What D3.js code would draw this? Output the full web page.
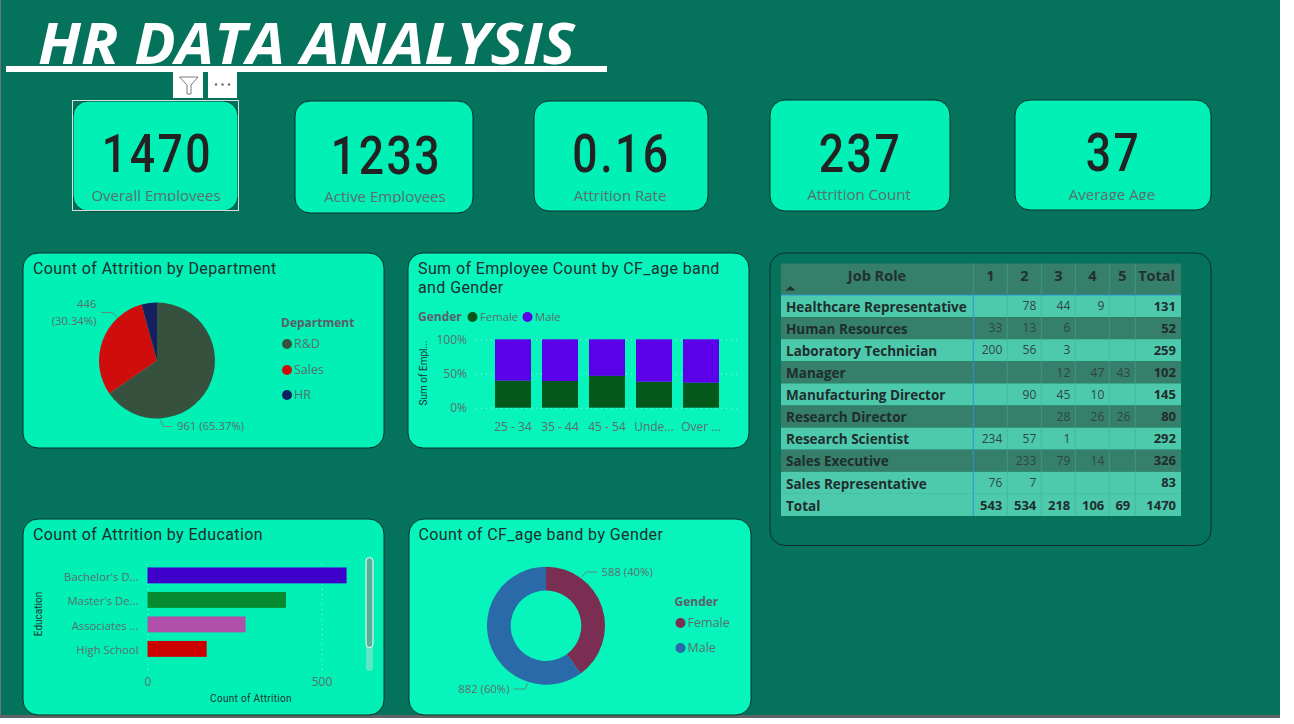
<!DOCTYPE html>
<html>
<head>
<meta charset="utf-8">
<script src="https://cdn.jsdelivr.net/npm/d3@7"></script>
<style>
  html, body { margin: 0; background: #fff; overflow: hidden; }
  svg { display: block; }
  text { font-family: "Open Sans", "Noto Sans", sans-serif; }
  .din { font-family: Roboto, sans-serif; font-weight: 500; }
  .label { font-size: 12px; fill: #5b6f6c; }
  .tick-label { font-size: 11.3px; fill: #5b6f6c; }
  .title { font-family: Roboto, sans-serif; font-size: 16px; fill: #1f2d2d; letter-spacing: 0.4px; }
  .legend-title { font-size: 12px; font-weight: 700; fill: #5a6068; }
  .axis-title { font-family: Roboto, sans-serif; font-size: 10px; fill: #22302f; }
</style>
</head>
<body>
<svg id="page" width="1294" height="724"></svg>
<script>
var kpiValues = ['1470', '1233', '0.16', '237', '37'];
var kpiNames = ['Overall Employees', 'Active Employees', 'Attrition Rate', 'Attrition Count', 'Average Age'];

var departments = ['R&D', 'Sales', 'HR'];
var departmentCounts = [961, 446, 63];

var ageBands = ['25 - 34', '35 - 44', '45 - 54', 'Under 25', 'Over 55'];
var ageBandTicks = ['25 - 34', '35 - 44', '45 - 54', 'Unde...', 'Over ...'];
var femaleShare = [39.5, 39, 46.5, 38, 36.5];
var maleShare = [60.5, 61, 53.5, 62, 63.5];

var educationLevels = ["Bachelor's Degree", "Master's Degree", 'Associates Degree', 'High School'];
var educationTicks = ["Bachelor's D...", "Master's De...", 'Associates ...', 'High School'];
var educationCounts = [572, 398, 282, 170];

var genders = ['Female', 'Male'];
var genderCounts = [588, 882];

var jobRoles = ['Healthcare Representative', 'Human Resources', 'Laboratory Technician', 'Manager',
  'Manufacturing Director', 'Research Director', 'Research Scientist', 'Sales Executive',
  'Sales Representative', 'Total'];
var jobLevels = ['1', '2', '3', '4', '5', 'Total'];
var level1 = ['', 33, 200, '', '', '', 234, '', 76, 543];
var level2 = [78, 13, 56, '', 90, '', 57, 233, 7, 534];
var level3 = [44, 6, 3, 12, 45, 28, 1, 79, '', 218];
var level4 = [9, '', '', 47, 10, 26, '', 14, '', 106];
var level5 = ['', '', '', 43, '', 26, '', '', '', 69];
var levelTotal = [131, 52, 259, 102, 145, 80, 292, 326, 83, 1470];

var svg = d3.select('#page');

// report background
svg.append('rect').attr('width', 1280).attr('height', 718).attr('fill', '#05735c');
svg.append('rect').attr('width', 1).attr('height', 718).attr('fill', '#6b7775');
svg.append('rect').attr('y', 715).attr('width', 1280).attr('height', 3).attr('fill', '#5d6664');

// header
svg.append('text')
  .attr('x', 38).attr('y', 64)
  .attr('textLength', 537)
  .attr('lengthAdjust', 'spacingAndGlyphs')
  .style('font-size', '57px').style('font-weight', 700).style('font-style', 'italic')
  .attr('fill', '#fff')
  .text('HR DATA ANALYSIS');
svg.append('rect').attr('x', 6).attr('y', 66).attr('width', 601).attr('height', 6).attr('fill', '#fff');

// cards helper
function card(x, y, w, h, fill) {
  return svg.append('rect')
    .attr('x', x).attr('y', y).attr('width', w).attr('height', h)
    .attr('rx', 15)
    .attr('fill', fill)
    .attr('stroke', '#0b2f2a')
    .attr('stroke-width', 1);
}

// KPI cards
var kpiBoxes = [
  { x: 73, y: 101, w: 165, h: 110, cx: 157, base: 172, sub: 196, clip: 201 },
  { x: 295, y: 101, w: 178, h: 112, cx: 386, base: 174, sub: 197, clip: 203 },
  { x: 534, y: 101, w: 174, h: 110, cx: 621, base: 172, sub: 196, clip: 207 },
  { x: 770, y: 100, w: 180, h: 111, cx: 860, base: 172, sub: 195, clip: 207 },
  { x: 1015, y: 100, w: 196, h: 110, cx: 1113, base: 171, sub: 195, clip: 200 }
];
var defs = svg.append('defs');
kpiBoxes.forEach(function (b, i) {
  card(b.x, b.y, b.w, b.h, '#00f0b6');
  // the report's number font is narrower than Roboto, so squeeze it horizontally
  svg.append('text')
    .attr('class', 'din')
    .attr('transform', 'translate(' + (b.cx + 0.5) + ',' + b.base + ') scale(0.84, 1)')
    .attr('text-anchor', 'middle')
    .attr('fill', '#222')
    .style('font-size', '53px')
    .style('letter-spacing', '3px')
    .text(kpiValues[i]);
  defs.append('clipPath').attr('id', 'kpi' + i)
    .append('rect').attr('x', b.x).attr('y', b.y).attr('width', b.w).attr('height', b.clip - b.y);
  svg.append('text')
    .attr('clip-path', 'url(#kpi' + i + ')')
    .attr('x', b.cx - 1).attr('y', b.sub + 5)
    .attr('text-anchor', 'middle')
    .attr('fill', '#5b6f6c')
    .style('font-size', '15px')
    .text(kpiNames[i]);
});

// selected visual frame and header icons
svg.append('rect').attr('x', 72.5).attr('y', 100.5).attr('width', 166).attr('height', 110)
  .attr('fill', 'none').attr('stroke', '#d9dedd').attr('stroke-width', 1);
svg.append('rect').attr('x', 173).attr('y', 71).attr('width', 30).attr('height', 27).attr('fill', '#fff');
svg.append('rect').attr('x', 208).attr('y', 71).attr('width', 29).attr('height', 27).attr('fill', '#fff');
svg.append('path')
  .attr('d', 'M179.5 77 H198 L191 85 V94 H187 V85 Z')
  .attr('fill', 'none').attr('stroke', '#7a7a7a').attr('stroke-width', 1);
svg.append('g').selectAll('circle').data([216, 222.5, 229]).enter().append('circle')
  .attr('cx', function (d) { return d; }).attr('cy', 84.5).attr('r', 1.2).attr('fill', '#666');

// visual cards
card(23, 253, 361, 195, '#00f0b6');
card(408, 253, 341, 195, '#07f5bd');
card(770, 253, 441, 292.5, '#05735c');
card(23, 519, 361, 196, '#00f0b6');
card(409, 519, 342, 196, '#07f5bd');

function title(x, y, s) {
  svg.append('text').attr('class', 'title').attr('x', x).attr('y', y).text(s);
}
function label(x, y, s, anchor) {
  return svg.append('text').attr('class', 'label')
    .attr('x', x).attr('y', y).attr('dy', '0.35em')
    .attr('text-anchor', anchor || 'start').text(s);
}
function leader(points) {
  svg.append('path').attr('d', d3.line()(points))
    .attr('fill', 'none').attr('stroke', '#5b8f80').attr('stroke-width', 1);
}
function legendRows(name, items, color, x, ys, titleY) {
  svg.append('text').attr('class', 'legend-title').attr('x', x).attr('y', titleY).attr('dy', '0.35em').text(name);
  items.forEach(function (d, i) {
    svg.append('circle').attr('cx', x + 6).attr('cy', ys[i]).attr('r', 5).attr('fill', color(d));
    label(x + 13, ys[i], d).style('font-size', '12.5px');
  });
}

// pie - attrition by department
title(33, 274, 'Count of Attrition by Department');
var deptColor = d3.scaleOrdinal().domain(departments).range(['#36523f', '#d00d0d', '#14205f']);
var pie = d3.pie().sort(null).value(function (d) { return d; });
var pieArc = d3.arc().innerRadius(0).outerRadius(58);
svg.append('g').attr('transform', 'translate(157, 360.5)')
  .selectAll('path').data(pie(departmentCounts)).enter().append('path')
  .attr('d', pieArc)
  .attr('fill', function (d, i) { return deptColor(departments[i]); });
leader([[101, 312.5], [112, 312.5], [117, 317]]);
leader([[160.5, 420], [163, 426.5], [172, 426.5]]);
label(96.5, 304, departmentCounts[1], 'end').attr('class', 'tick-label');
label(96.5, 321, '(30.34%)', 'end').attr('class', 'tick-label');
label(177, 426.5, departmentCounts[0] + ' (65.37%)').attr('class', 'tick-label');
legendRows('Department', departments, deptColor, 281, [344, 370, 395], 323);

// stacked bars - age band by gender
title(418, 274, 'Sum of Employee Count by CF_age band');
title(418, 293, 'and Gender');
svg.append('text').attr('class', 'legend-title').attr('x', 418).attr('y', 317).attr('dy', '0.35em').text('Gender');
var stackColor = d3.scaleOrdinal().domain(genders).range(['#04581a', '#5b00e8']);
genders.forEach(function (g, i) {
  var cx = [472.5, 527.5][i];
  svg.append('circle').attr('cx', cx).attr('cy', 317).attr('r', 5).attr('fill', stackColor(g));
  label(cx + 7.5, 317, g).attr('class', 'tick-label');
});
var bandX = d3.scaleBand().domain(ageBands).range([489.5, 724.5]).paddingInner(0.234).paddingOuter(0.117);
var shareY = d3.scaleLinear().domain([0, 100]).range([407.7, 339.3]);
var stackRows = ageBands.map(function (b, i) { return { band: b, Female: femaleShare[i], Male: maleShare[i] }; });

var shareAxis = svg.append('g').attr('transform', 'translate(476, 0)')
  .call(d3.axisLeft(shareY).tickValues([0, 50, 100]).tickSize(-261)
    .tickFormat(function (d) { return d + '%'; }));
shareAxis.select('.domain').remove();
shareAxis.selectAll('line').attr('stroke', '#a8eedd').attr('stroke-dasharray', '1 4');
shareAxis.selectAll('text').attr('class', 'label').attr('x', -9);

svg.append('g').selectAll('g').data(d3.stack().keys(genders)(stackRows)).enter().append('g')
  .attr('fill', function (d) { return stackColor(d.key); })
  .selectAll('rect').data(function (d) { return d; }).enter().append('rect')
  .attr('x', function (d) { return bandX(d.data.band); })
  .attr('y', function (d) { return shareY(d[1]); })
  .attr('width', bandX.bandwidth())
  .attr('height', function (d) { return shareY(d[0]) - shareY(d[1]); });

var bandAxis = svg.append('g').attr('transform', 'translate(0, 407.7)')
  .call(d3.axisBottom(bandX).tickSize(0).tickFormat(function (d, i) { return ageBandTicks[i]; }));
bandAxis.select('.domain').remove();
bandAxis.selectAll('text').attr('class', 'label').attr('y', 19).attr('dy', '0.35em');

svg.append('text').attr('class', 'axis-title')
  .attr('transform', 'translate(423.5, 373) rotate(-90)')
  .attr('text-anchor', 'middle').attr('dy', '0.35em').text('Sum of Empl...');

// horizontal bars - attrition by education
title(33, 540, 'Count of Attrition by Education');
var eduColor = d3.scaleOrdinal().domain(educationLevels).range(['#3f00cc', '#068a30', '#b050ab', '#cc0000']);
var eduX = d3.scaleLinear().domain([0, 500]).range([147.5, 321.5]);
var eduY = d3.scaleBand().domain(educationLevels).range([562.8, 661.5]).paddingInner(0.351).paddingOuter(0.19);

var eduGrid = svg.append('g').attr('transform', 'translate(0, 670)')
  .call(d3.axisBottom(eduX).tickValues([0, 500]).tickSize(-110));
eduGrid.select('.domain').remove();
eduGrid.selectAll('line').attr('stroke', '#a8eedd').attr('stroke-dasharray', '1 4');
eduGrid.selectAll('text').attr('class', 'label').attr('y', 12).attr('dy', '0.35em');

svg.append('g').selectAll('rect').data(educationCounts).enter().append('rect')
  .attr('x', eduX(0))
  .attr('y', function (d, i) { return eduY(educationLevels[i]); })
  .attr('width', function (d) { return eduX(d) - eduX(0); })
  .attr('height', eduY.bandwidth())
  .attr('fill', function (d, i) { return eduColor(educationLevels[i]); });

var eduAxis = svg.append('g').attr('transform', 'translate(147.5, 1.5)')
  .call(d3.axisLeft(eduY).tickSize(0).tickFormat(function (d, i) { return educationTicks[i]; }));
eduAxis.select('.domain').remove();
eduAxis.selectAll('text').attr('class', 'tick-label').attr('x', -9);

svg.append('text').attr('class', 'axis-title')
  .attr('transform', 'translate(38.5, 614) rotate(-90)')
  .attr('text-anchor', 'middle').attr('dy', '0.35em').text('Education');
svg.append('text').attr('class', 'axis-title')
  .attr('x', 251).attr('y', 698).attr('text-anchor', 'middle').attr('dy', '0.35em')
  .style('letter-spacing', '0.3px').text('Count of Attrition');

// scrollbar
svg.append('rect').attr('x', 366).attr('y', 558).attr('width', 7).attr('height', 113).attr('rx', 3.5).attr('fill', '#5fe6c6');
svg.append('rect').attr('x', 366).attr('y', 557.5).attr('width', 7).attr('height', 90).attr('rx', 3.5)
  .attr('fill', '#58b09a').attr('stroke', '#fff').attr('stroke-width', 1);

// donut - age band by gender
title(418.5, 540, 'Count of CF_age band by Gender');
var donutColor = d3.scaleOrdinal().domain(genders).range(['#7a2e52', '#2b6aa8']);
var donutArc = d3.arc().innerRadius(35.3).outerRadius(59);
svg.append('g').attr('transform', 'translate(546, 625.7)')
  .selectAll('path').data(pie(genderCounts)).enter().append('path')
  .attr('d', donutArc)
  .attr('fill', function (d, i) { return donutColor(genders[i]); });
leader([[581.5, 577], [586, 572], [597.5, 572]]);
leader([[513.5, 689], [525, 689], [527.5, 683.5]]);
label(601.5, 572.5, genderCounts[0] + ' (40%)').attr('class', 'tick-label');
label(509.5, 689.5, genderCounts[1] + ' (60%)', 'end').attr('class', 'tick-label');
legendRows('Gender', genders, donutColor, 674.5, [623, 648], 602);

// matrix table
var columnEdges = [781, 973.3, 1007.3, 1041.3, 1075.3, 1109.3, 1135.3, 1181];
var levelColumns = [level1, level2, level3, level4, level5, levelTotal];
var rowY = d3.scaleBand().domain(jobRoles).range([295, 516]);
var table = svg.append('g');

table.append('rect').attr('x', 781).attr('y', 263.5).attr('width', 400).attr('height', 31.5).attr('fill', '#367f6b');
table.selectAll('rect.row').data(jobRoles).enter().append('rect')
  .attr('class', 'row')
  .attr('x', 781)
  .attr('y', function (d) { return rowY(d); })
  .attr('width', 400)
  .attr('height', rowY.bandwidth())
  .attr('fill', function (d, i) { return (i % 2 === 1 && i < 9) ? '#367f6b' : '#4dc9ab'; });

columnEdges.slice(2, 7).forEach(function (x) {
  table.append('line').attr('x1', x).attr('x2', x).attr('y1', 263.5).attr('y2', 516)
    .attr('stroke', '#3fae94').attr('stroke-opacity', 0.55);
});
table.append('line').attr('x1', 973.3).attr('x2', 973.3).attr('y1', 263.5).attr('y2', 295)
  .attr('stroke', '#3fae94').attr('stroke-opacity', 0.55);
table.append('line').attr('x1', 973.3).attr('x2', 973.3).attr('y1', 295).attr('y2', 516)
  .attr('stroke', '#2e93d6').attr('stroke-width', 1);
table.append('line').attr('x1', 781).attr('x2', 1181).attr('y1', 295).attr('y2', 295)
  .attr('stroke', '#2e93d6').attr('stroke-width', 1);

table.append('text').attr('x', 877).attr('y', 276).attr('dy', '0.35em').attr('text-anchor', 'middle')
  .attr('fill', '#22302f').style('font-size', '14.5px').style('font-weight', 700).text('Job Role');
table.append('path').attr('d', 'M785.5 290.5 L790.5 286 L795.5 290.5 Z').attr('fill', '#22302f');

jobLevels.forEach(function (lv, c) {
  var isTotal = c === 5;
  table.append('text')
    .attr('x', isTotal ? columnEdges[c + 2] - 6 : (columnEdges[c + 1] + columnEdges[c + 2]) / 2)
    .attr('y', 276).attr('dy', '0.35em')
    .attr('text-anchor', isTotal ? 'end' : 'middle')
    .attr('fill', '#22302f').style('font-size', '14.5px').style('font-weight', 700)
    .text(lv);
});

jobRoles.forEach(function (role, r) {
  var mid = rowY(role) + rowY.bandwidth() / 2;
  var lastRow = r === jobRoles.length - 1;
  table.append('text').attr('x', 786).attr('y', mid + 1).attr('dy', '0.35em')
    .attr('fill', '#1f2d2d').style('font-size', '13.5px').style('font-weight', 700).text(role);
  levelColumns.forEach(function (col, c) {
    if (col[r] === '') return;
    var bold = lastRow || c === 5;
    table.append('text')
      .attr('x', columnEdges[c + 2] - 5).attr('y', mid).attr('dy', '0.35em')
      .attr('text-anchor', 'end')
      .attr('fill', bold ? '#1f2d2d' : '#2f4644')
      .style('font-size', bold ? '13px' : '12px')
      .style('font-weight', bold ? 700 : 400)
      .text(col[r]);
  });
});
</script>
</body>
</html>
